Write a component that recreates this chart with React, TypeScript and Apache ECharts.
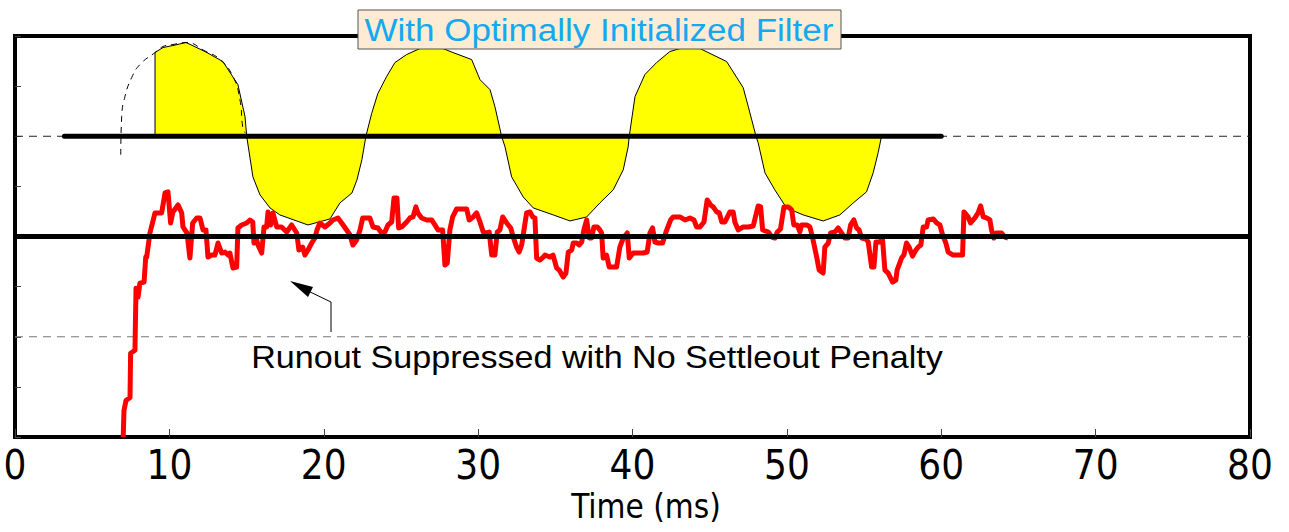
import React, { useEffect, useRef } from "react";
import * as echarts from "echarts";

// x axis: Time (ms); y axis: arbitrary units (no labels)
const xTickValues = [0, 10, 20, 30, 40, 50, 60, 70, 80];
const xAxisTitle = "Time (ms)";
const chartTitle = "With Optimally Initialized Filter";
const annotationText = "Runout Suppressed with No Settleout Penalty";

// Red response trace [time ms, value]
const responseData: [number, number][] = [
  [7.01, -4.0], [7.06, -3.47], [7.19, -3.27], [7.45, -3.21], [7.49, -2.33], [7.77, -2.27],
  [7.84, -1.03], [7.97, -1.21], [8.09, -0.93], [8.36, -0.91], [8.47, -0.41], [8.53, -0.41],
  [8.74, 0.07], [9.07, 0.47], [9.5, 0.47], [9.72, 0.87], [9.91, 0.89], [10.08, 0.27],
  [10.23, 0.49], [10.56, 0.63], [10.8, 0.47], [10.88, 0.19], [11.14, 0.07], [11.33, -0.43],
  [11.51, 0.27], [11.77, 0.37], [11.98, 0.37], [12.18, 0.13], [12.37, 0.13], [12.5, -0.41],
  [12.74, -0.37], [12.95, -0.37], [13.15, -0.13], [13.39, -0.33], [13.6, -0.31], [13.8, -0.37],
  [13.92, -0.33], [14.12, -0.63], [14.36, -0.61], [14.44, 0.17], [14.68, 0.23], [15.01, 0.27],
  [15.22, 0.33], [15.4, 0.29], [15.48, -0.13], [15.65, -0.07], [15.74, -0.17], [15.98, -0.33],
  [16.13, 0.19], [16.3, 0.19], [16.39, 0.49], [16.56, 0.23], [16.71, 0.47], [16.95, 0.19],
  [17.27, 0.19], [17.6, 0.09], [17.92, 0.23], [18.25, 0.07], [18.39, -0.27], [18.63, -0.21],
  [18.78, -0.37], [18.98, -0.27], [19.22, -0.13], [19.43, -0.03], [19.56, 0.13], [19.75, 0.27],
  [20.08, 0.19], [20.4, 0.27], [20.6, 0.33], [20.92, 0.37], [21.16, 0.27], [21.48, 0.13],
  [21.7, 0.03], [21.89, -0.17], [22.13, -0.07], [22.35, 0.13], [22.52, 0.37], [22.99, 0.37],
  [23.19, 0.19], [23.51, 0.17], [23.75, 0.07], [23.96, 0.09], [24.16, 0.23], [24.4, 0.29],
  [24.55, 0.77], [24.74, 0.77], [24.85, 0.17], [25.05, 0.19], [25.37, 0.29], [25.58, 0.37],
  [25.78, 0.39], [25.97, 0.59], [26.1, 0.47], [26.34, 0.37], [26.67, 0.33], [26.99, 0.33],
  [27.2, 0.23], [27.4, 0.13], [27.7, 0.13], [27.85, -0.57], [28.0, -0.53], [28.17, 0.13],
  [28.35, 0.39], [28.61, 0.55], [29.26, 0.55], [29.42, 0.33], [29.68, 0.39], [29.9, 0.47],
  [30.12, 0.29], [30.33, 0.09], [30.55, 0.07], [30.72, 0.09], [30.88, -0.37], [31.09, -0.37],
  [31.24, 0.09], [31.41, 0.13], [31.59, 0.39], [31.85, 0.27], [32.11, 0.17], [32.27, -0.01],
  [32.49, -0.21], [32.66, -0.31], [32.82, -0.17], [32.97, 0.13], [33.14, 0.47], [33.36, 0.49],
  [33.53, 0.39], [33.68, 0.37], [33.79, -0.43], [34.0, -0.47], [34.22, -0.41], [34.33, -0.37],
  [34.65, -0.41], [34.85, -0.37], [35.09, -0.63], [35.25, -0.67], [35.51, -0.81], [35.69, -0.73],
  [35.84, -0.31], [36.06, -0.27], [36.16, -0.13], [36.38, -0.13], [36.55, -0.17], [36.71, -0.11],
  [36.85, 0.13], [37.03, 0.33], [37.2, -0.03], [37.35, -0.03], [37.5, 0.19], [37.72, 0.19],
  [37.89, 0.13], [38.0, 0.07], [38.1, -0.43], [38.32, -0.37], [38.49, -0.61], [38.97, -0.61],
  [39.18, -0.21], [39.4, -0.03], [39.66, 0.07], [39.79, -0.43], [40.05, -0.33], [40.69, -0.33],
  [40.95, -0.31], [41.13, 0.07], [41.3, 0.17], [41.45, -0.11], [41.67, -0.13], [41.95, -0.13],
  [42.17, 0.09], [42.47, 0.33], [42.64, 0.39], [43.07, 0.39], [43.4, 0.33], [43.72, 0.37],
  [43.98, 0.33], [44.15, 0.19], [44.37, 0.19], [44.63, 0.29], [44.84, 0.73], [45.06, 0.63],
  [45.23, 0.59], [45.45, 0.49], [45.62, 0.47], [45.78, 0.29], [45.99, 0.29], [46.31, 0.49],
  [46.52, 0.49], [46.63, 0.29], [46.85, 0.13], [47.17, 0.19], [47.5, 0.19], [47.82, 0.21],
  [48.14, 0.61], [48.3, 0.59], [48.43, 0.13], [48.8, 0.09], [49.02, -0.01], [49.23, -0.03],
  [49.38, 0.09], [49.59, 0.15], [49.81, 0.59], [50.09, 0.59], [50.31, 0.53], [50.45, 0.23],
  [50.67, 0.23], [50.84, 0.09], [50.95, 0.23], [51.28, 0.23], [51.49, 0.19], [51.67, -0.03],
  [51.93, -0.41], [52.09, -0.67], [52.35, -0.73], [52.46, -0.21], [52.68, -0.13], [52.83, 0.07],
  [53.11, 0.09], [53.32, 0.17], [53.54, 0.07], [53.76, -0.03], [53.97, -0.03], [54.13, 0.23],
  [54.34, 0.33], [54.52, 0.17], [54.68, 0.13], [54.84, -0.03], [55.12, -0.05], [55.27, -0.11],
  [55.49, -0.61], [55.64, -0.61], [55.77, -0.11], [55.98, -0.11], [56.2, -0.07], [56.35, -0.67],
  [56.56, -0.73], [56.85, -0.91], [57.06, -0.87], [57.14, -0.67], [57.43, -0.43], [57.58, -0.37],
  [57.75, -0.13], [57.92, -0.21], [58.14, -0.39], [58.36, -0.27], [58.51, -0.21], [58.68, -0.17],
  [58.83, 0.19], [59.05, 0.19], [59.15, 0.33], [59.48, 0.35], [59.7, 0.27], [59.91, 0.23],
  [60.09, 0.03], [60.3, -0.13], [60.45, -0.31], [60.77, -0.37], [61.38, -0.37], [61.47, 0.49],
  [61.74, 0.39], [61.9, 0.27], [62.18, 0.37], [62.39, 0.47], [62.55, 0.61], [62.72, 0.39],
  [62.94, 0.37], [63.15, 0.33], [63.26, 0.13], [63.41, -0.03], [63.58, 0.07], [63.91, 0.07],
  [64.12, -0.01], [64.33, -0.03],
];

// Yellow filter waveform [time ms, value], filled toward the baseline level
const filterWave: [number, number][] = [
  [9.07, 2.0], [9.07, 3.67], [9.59, 3.77], [10.23, 3.81], [11.08, 3.87], [12.31, 3.69],
  [13.47, 3.49], [14.44, 3.03], [14.9, 2.39], [15.01, 2.0],
  [15.41, 1.19], [15.87, 0.83], [16.52, 0.57], [17.16, 0.43], [18.98, 0.23], [20.4, 0.35],
  [21.05, 0.67], [21.83, 0.87], [22.15, 1.13], [22.47, 1.53], [22.73, 2.0],
  [23.1, 2.45], [23.5, 2.85], [24.07, 3.19], [24.61, 3.47], [25.37, 3.63], [26.23, 3.75],
  [27.72, 3.75], [28.37, 3.67], [29.58, 3.53], [30.12, 3.13], [30.77, 2.93], [31.09, 2.59],
  [31.52, 2.0],
  [31.74, 1.79], [32.17, 1.19], [32.92, 0.79], [33.57, 0.57], [34.87, 0.43], [35.95, 0.31],
  [37.03, 0.39], [37.89, 0.67], [38.75, 0.93], [39.4, 1.33], [39.72, 1.79], [39.79, 2.0],
  [40.16, 2.79], [40.8, 3.23], [41.56, 3.47], [42.42, 3.69], [43.07, 3.75], [44.37, 3.75],
  [46.1, 3.49], [47.17, 2.97], [47.5, 2.59], [48.0, 2.0],
  [48.14, 1.87], [48.58, 1.27], [49.22, 0.93], [49.98, 0.57], [51.06, 0.43], [52.35, 0.31],
  [53.43, 0.43], [54.3, 0.67], [55.16, 0.89], [55.59, 1.27], [55.91, 1.67], [56.13, 2.0],
];

// Dashed unfiltered start-up curve
const startupCurve: [number, number][] = [
  [6.85, 1.63], [6.91, 2.39], [7.12, 2.79], [7.56, 3.17], [8.09, 3.43], [9.07, 3.67],
  [9.59, 3.79], [10.23, 3.83], [11.08, 3.87], [12.31, 3.7], [13.28, 3.53], [14.12, 3.19],
  [14.57, 2.73], [14.75, 2.19], [14.9, 2.07],
];

const baselineLevel = 2;
const baselineSpan = [3.2, 60];
const lowerRefLevel = -2;
const zeroLevel = 0;
const xRange = [0, 80];
const yRange = [-4, 4];

export default function App() {
  const ref = useRef<HTMLDivElement>(null);
  useEffect(() => {
    if (!ref.current) return;
    const chart = echarts.init(ref.current, undefined, { renderer: "svg" });
    const font = "'Liberation Sans', Arial, sans-serif";
    chart.setOption({
      animation: false,
      backgroundColor: "#ffffff",
      grid: {
        show: true,
        left: 15,
        right: 39,
        top: 36,
        bottom: 95,
        borderColor: "#000",
        borderWidth: 4,
        backgroundColor: "transparent",
      },
      xAxis: {
        type: "value",
        min: xRange[0],
        max: xRange[1],
        interval: 10,
        axisLine: { show: false, onZero: false },
        splitLine: { show: false },
        axisTick: { show: true, inside: true, length: 8, lineStyle: { color: "#444", width: 1 } },
        axisLabel: {
          color: "#000",
          fontSize: 40,
          fontFamily: "'DejaVu Sans Condensed', 'Liberation Sans Narrow', sans-serif",
          margin: 8,
          formatter: (v: number) => (xTickValues.includes(v) ? String(v) : ""),
        },
      },
      yAxis: {
        type: "value",
        min: yRange[0],
        max: yRange[1],
        interval: 1,
        axisLine: { show: false, onZero: false },
        splitLine: { show: false },
        axisTick: { show: true, inside: true, length: 6, lineStyle: { color: "#444", width: 1 } },
        axisLabel: { show: false },
      },
      graphic: [
        {
          type: "rect",
          z: 300,
          shape: { x: 358, y: 10, width: 483, height: 39 },
          style: { fill: "#fdebd4", stroke: "#555", lineWidth: 1 },
        },
        {
          type: "text",
          z: 301,
          x: 599,
          y: 30,
          scaleX: 1.13,
          style: {
            text: chartTitle,
            fill: "#14a9ef",
            fontSize: 31,
            fontFamily: font,
            align: "center",
            verticalAlign: "middle",
          },
        },
        {
          type: "text",
          z: 300,
          x: 597,
          y: 358,
          scaleX: 1.1,
          style: {
            text: annotationText,
            fill: "#000",
            fontSize: 31,
            fontFamily: font,
            align: "center",
            verticalAlign: "middle",
          },
        },
        {
          type: "polyline",
          z: 300,
          shape: { points: [[331, 332], [331, 302], [304, 289]] },
          style: { stroke: "#000", lineWidth: 1, fill: "none" },
        },
        {
          type: "polygon",
          z: 300,
          shape: { points: [[290, 281], [313, 287], [308, 297]] },
          style: { fill: "#000" },
        },
        {
          type: "text",
          z: 300,
          x: 646,
          y: 506,
          style: {
            text: xAxisTitle,
            fill: "#000",
            fontSize: 33,
            fontFamily: "'DejaVu Sans Condensed', sans-serif",
            align: "center",
            verticalAlign: "middle",
          },
        },
      ],
      series: [
        {
          type: "line",
          data: [[xRange[0], baselineLevel], [xRange[1], baselineLevel]],
          showSymbol: false,
          lineStyle: { color: "#222", width: 1, type: [8, 6] },
          z: 1,
          silent: true,
        },
        {
          type: "line",
          data: [[xRange[0], lowerRefLevel], [xRange[1], lowerRefLevel]],
          showSymbol: false,
          lineStyle: { color: "#777", width: 1, type: [8, 6] },
          z: 1,
          silent: true,
        },
        {
          type: "line",
          data: filterWave,
          showSymbol: false,
          lineStyle: { color: "#000", width: 1 },
          areaStyle: { color: "#ffff00", opacity: 1, origin: baselineLevel },
          z: 2,
          silent: true,
        },
        {
          type: "line",
          data: startupCurve,
          showSymbol: false,
          smooth: true,
          lineStyle: { color: "#000", width: 1, type: [6, 5] },
          z: 3,
          silent: true,
        },
        {
          type: "line",
          data: [[baselineSpan[0], baselineLevel], [baselineSpan[1], baselineLevel]],
          showSymbol: false,
          lineStyle: { color: "#000", width: 5, cap: "round" },
          z: 4,
          silent: true,
        },
        {
          type: "line",
          data: responseData,
          showSymbol: false,
          lineStyle: { color: "#ff0000", width: 5, join: "round" },
          z: 5,
          silent: true,
        },
        {
          type: "line",
          data: [[xRange[0], zeroLevel], [xRange[1], zeroLevel]],
          showSymbol: false,
          lineStyle: { color: "#000", width: 5 },
          z: 6,
          silent: true,
        },
      ],
    });
    return () => chart.dispose();
  }, []);
  return (
    <div
      ref={ref}
      style={{ position: "fixed", left: 0, top: 0, width: 1289, height: 532, background: "#fff" }}
    />
  );
}
